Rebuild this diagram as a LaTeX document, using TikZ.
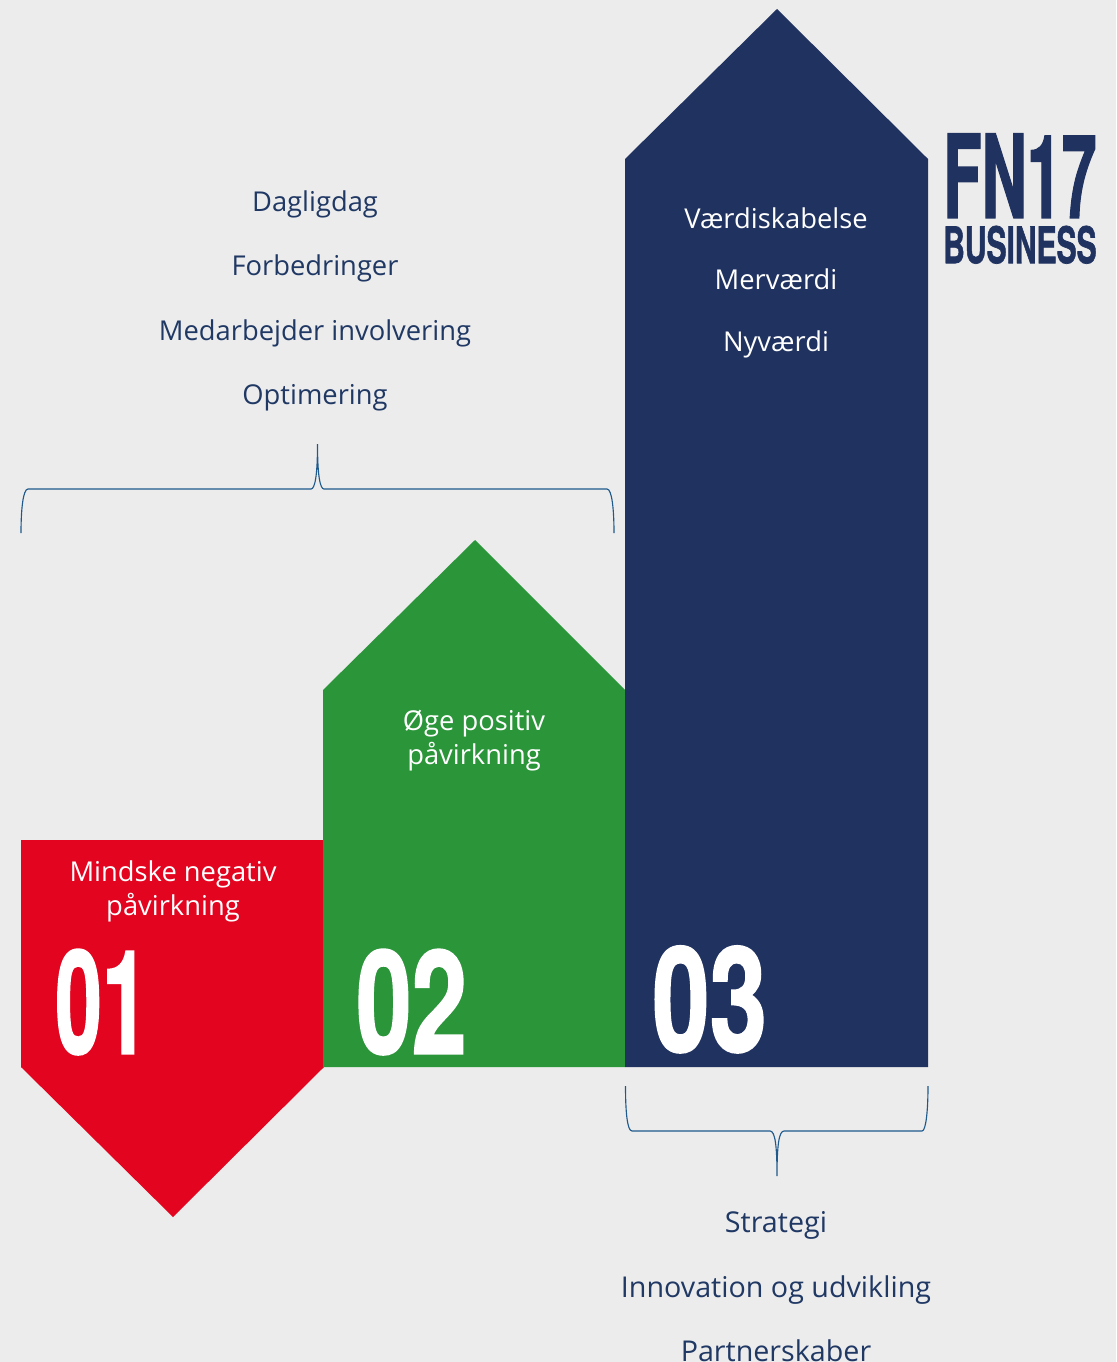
\documentclass[tikz,border=0pt]{standalone}
\usepackage{fontspec}
\setmainfont{Open Sans}
\newfontfamily\bignum[FakeBold=1.5]{TeX Gyre Heros Bold}
\definecolor{bgc}{HTML}{ECECEC}
\definecolor{navyc}{HTML}{203260}
\definecolor{greenc}{HTML}{2B953A}
\definecolor{redc}{HTML}{E30520}
\definecolor{bracec}{HTML}{1F5A8C}
\definecolor{txtc}{HTML}{203864}
\tikzset{
  px/.style={x=0.75pt,y=-0.75pt},
  bracel/.style={draw=bracec,line width=0.85pt},
  dark/.style={text=txtc,font=\fontsize{20.5pt}{24pt}\selectfont,inner sep=0pt,anchor=base},
  light/.style={text=white,font=\fontsize{20.5pt}{24pt}\selectfont,inner sep=0pt,anchor=base},
  darkb/.style={text=txtc,font=\fontsize{21.5pt}{24pt}\selectfont,inner sep=0pt,anchor=base},
  num/.style={text=white,inner sep=0pt,anchor=south west},
  logo/.style={text=navyc,inner sep=0pt,anchor=south west}
}
\newcommand{\fitbox}[3]{\resizebox{#1pt}{#2pt}{\bignum #3}}
\begin{document}
\begin{tikzpicture}[px]
\useasboundingbox (0,0) rectangle (1116,1362);
\fill[bgc] (0,0) rectangle (1116,1362);
\fill[redc] (21,840) -- (324,840) -- (324,1067) -- (173,1217) -- (21,1067) -- cycle;
\fill[greenc] (323,690) -- (475,540) -- (625,690) -- (625,1067) -- (323,1067) -- cycle;
\fill[navyc] (625,159) -- (777,9) -- (928,159) -- (928,1067) -- (625,1067) -- cycle;
\draw[bracel] (21,533) .. controls (21,510) and (23,489) .. (28,489) -- (311,489) .. controls (315,489) and (317.5,475) .. (317.5,444) .. controls (317.5,475) and (320,489) .. (324,489) -- (607,489) .. controls (612,489) and (614,510) .. (614,533);
\draw[bracel] (625.5,1086) .. controls (625.5,1110) and (627,1131) .. (632,1131) -- (770,1131) .. controls (775,1131) and (777,1145) .. (777,1176) .. controls (777,1145) and (779,1131) .. (784,1131) -- (922,1131) .. controls (926,1131) and (928,1110) .. (928,1086);
\node[dark] (a1) at (315,212) {Dagligdag};
\node[dark] (a2) at (315,276) {Forbedringer};
\node[dark] (a3) at (315,340) {Medarbejder involvering};
\node[dark] (a4) at (315,404) {Optimering};
\node[light] (b1) at (776,229) {Værdiskabelse};
\node[light] (b2) at (776,290) {Merværdi};
\node[light] (b3) at (776,351) {Nyværdi};
\node[light] (g1) at (474,730) {Øge positiv};
\node[light] (g2) at (474,764) {påvirkning};
\node[light] (r1) at (173,881) {Mindske negativ};
\node[light] (r2) at (173,915) {påvirkning};
\node[darkb] (c1) at (776,1232) {Strategi};
\node[darkb] (c2) at (776,1297) {Innovation og udvikling};
\node[darkb] (c3) at (776,1361) {Partnerskaber};
\node[num] (n1) at (55,1055) {\fitbox{70}{78}{01}};
\node[num] (n2) at (356,1055) {\fitbox{83}{78}{02}};
\node[num] (n3) at (652,1053) {\fitbox{86}{79}{03}};
\node[logo] (l1) at (943,218) {\fitbox{115}{63}{FN17}};
\node[logo] (l2) at (943,264) {\fitbox{115}{28}{BUSINESS}};
\end{tikzpicture}
\end{document}
